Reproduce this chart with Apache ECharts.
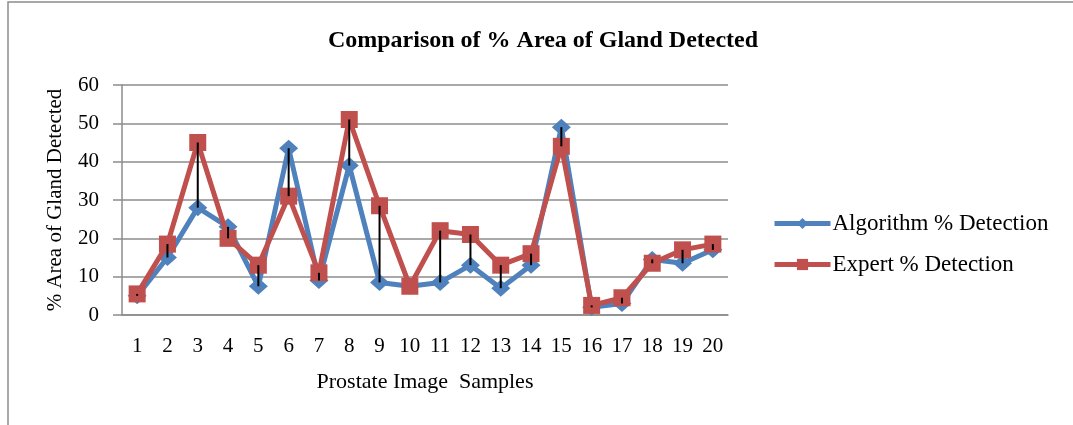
<!DOCTYPE html>
<html>
<head>
<meta charset="utf-8">
<script src="https://cdn.jsdelivr.net/npm/echarts@6/dist/echarts.min.js"></script>
<style>
html,body{margin:0;padding:0;background:#fff;}
#main{width:1073px;height:425px;}
</style>
</head>
<body>
<div id="main"></div>
<script>
const categories = ['1','2','3','4','5','6','7','8','9','10','11','12','13','14','15','16','17','18','19','20'];
const algorithm = [5, 15, 28, 23, 7.5, 43.5, 9, 39, 8.5, 7.5, 8.5, 13, 7, 13, 49, 2, 3, 14.5, 13.5, 17];
const expert = [5.5, 18.5, 45, 20, 13, 31, 11, 51, 28.5, 7.5, 22, 21, 13, 16, 44, 2.5, 4.5, 13.5, 17, 18.5];
const yTicks = { min: 0, max: 60, interval: 10 };

const serif = 'Liberation Serif';
const chart = echarts.init(document.getElementById('main'));
chart.setOption({
  animation: false,
  backgroundColor: '#fff',
  graphic: [{
    type: 'rect',
    shape: { x: 8, y: 2, width: 1080, height: 440 },
    style: { fill: 'none', stroke: '#8c8c8c', lineWidth: 1.5 },
    silent: true
  }],
  title: {
    text: 'Comparison of % Area of Gland Detected',
    left: 538, top: 24, textAlign: 'center',
    textStyle: { fontFamily: serif, fontWeight: 'bold', fontSize: 24, color: '#000' }
  },
  legend: {
    data: ['Algorithm % Detection', 'Expert % Detection'],
    orient: 'vertical',
    left: 767, top: 207,
    itemGap: 18,
    itemWidth: 56, itemHeight: 14,
    lineStyle: { width: 5 },
    textStyle: { fontFamily: serif, fontSize: 23, lineHeight: 23, color: '#000', padding: [0,0,0,-3] }
  },
  grid: { left: 122, right: 345, top: 85, bottom: 110, containLabel: false },
  xAxis: {
    type: 'category',
    data: categories,
    boundaryGap: true,
    name: 'Prostate Image  Samples',
    nameLocation: 'middle',
    nameGap: 56,
    nameTextStyle: { fontFamily: serif, fontSize: 22, color: '#000' },
    axisLine: { lineStyle: { color: '#8c8c8c', width: 1.5 } },
    axisTick: { show: false },
    axisLabel: { fontFamily: serif, fontSize: 21, color: '#000', margin: 21 }
  },
  yAxis: {
    type: 'value',
    min: yTicks.min, max: yTicks.max, interval: yTicks.interval,
    name: '% Area of Gland Detected',
    nameLocation: 'middle',
    nameGap: 56,
    nameRotate: 90,
    nameTextStyle: { fontFamily: serif, fontSize: 21, color: '#000' },
    axisLine: { show: true, lineStyle: { color: '#8c8c8c', width: 1.5 } },
    axisTick: { show: true, length: 9, inside: false, lineStyle: { color: '#8c8c8c', width: 1.5 } },
    axisLabel: { fontFamily: serif, fontSize: 21, color: '#000', margin: 23 },
    splitLine: { lineStyle: { color: '#8c8c8c', width: 1.5 } }
  },
  series: [
    {
      name: 'Algorithm % Detection',
      type: 'line',
      data: algorithm,
      symbol: 'diamond',
      symbolSize: [19, 17],
      itemStyle: { color: '#4F81BD' },
      lineStyle: { color: '#4F81BD', width: 5 },
      z: 2
    },
    {
      name: 'Expert % Detection',
      type: 'line',
      data: expert,
      symbol: 'rect',
      symbolSize: 17,
      itemStyle: { color: '#C0504D' },
      lineStyle: { color: '#C0504D', width: 5 },
      z: 3
    },
    {
      name: 'hilo',
      type: 'custom',
      data: categories.map((c, i) => [i, algorithm[i], expert[i]]),
      renderItem: function (params, api) {
        const p1 = api.coord([api.value(0), api.value(1)]);
        const p2 = api.coord([api.value(0), api.value(2)]);
        return {
          type: 'line',
          shape: { x1: p1[0], y1: p1[1], x2: p2[0], y2: p2[1] },
          style: { stroke: '#000', lineWidth: 2 }
        };
      },
      z: 5,
      silent: true
    }
  ]
});
</script>
</body>
</html>
